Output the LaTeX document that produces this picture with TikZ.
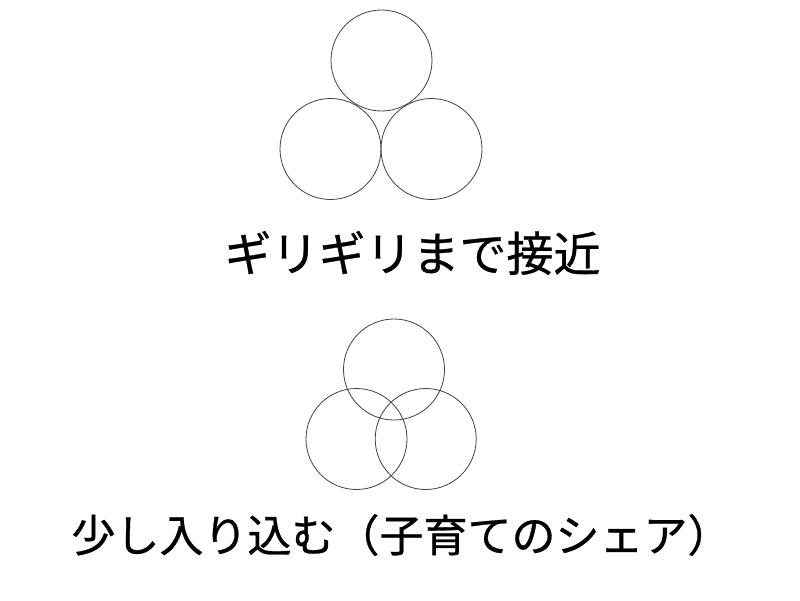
\documentclass[tikz,border=0pt]{standalone}
\usepackage{fontspec}
\newfontfamily\jpfont[FakeBold=0.7]{Noto Sans CJK JP}
\usepackage{tikz}
\tikzset{%
  ring/.style    = {shape=circle, draw=black!75, line width=0.8pt,%
                    minimum size=101pt, inner sep=0pt},%
  caption/.style = {font=\jpfont\fontsize{47}{52}\selectfont, inner sep=0pt}%
}
\begin{document}
\begin{tikzpicture}[x=1pt,y=-1pt]
	\useasboundingbox (0,0) rectangle (800,600);
	\begin{scope}
		\node[ring] (top1)   at (381.5,60.5) {};
		\node[ring] (left1)  at (330.5,149) {};
		\node[ring] (right1) at (431.5,149) {};
		\node[caption] (cap1) at (412.5,253) {ギリギリまで接近};
	\end{scope}
	\begin{scope}
		\node[ring] (top2)   at (394,369.5) {};
		\node[ring] (left2)  at (356.5,439) {};
		\node[ring] (right2) at (425.7,439) {};
		\node[caption, font=\jpfont\fontsize{44}{50}\selectfont] (cap2) at (401.5,535) {少し入り込む（子育てのシェア）};
	\end{scope}
\end{tikzpicture}
\end{document}
